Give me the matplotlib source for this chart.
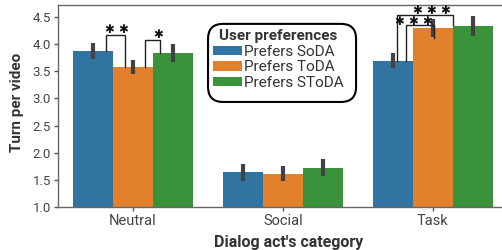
import matplotlib
matplotlib.use("Agg")
import matplotlib.pyplot as plt
from matplotlib.patches import FancyBboxPatch
import numpy as np

plt.rcParams['font.family'] = ['Roboto', 'DejaVu Sans']

categories = ["Neutral", "Social", "Task"]
series = ["Prefers SoDA", "Prefers ToDA", "Prefers SToDA"]
colors = ["#3274a1", "#e1812c", "#3a923a"]
means = {
    "Prefers SoDA": [3.87, 1.64, 3.69],
    "Prefers ToDA": [3.58, 1.62, 4.29],
    "Prefers SToDA": [3.83, 1.73, 4.33],
}
errs = {
    "Prefers SoDA": [0.14, 0.16, 0.14],
    "Prefers ToDA": [0.13, 0.145, 0.16],
    "Prefers SToDA": [0.17, 0.15, 0.19],
}
yticks = [1.0, 1.5, 2.0, 2.5, 3.0, 3.5, 4.0, 4.5]

# significance brackets: (x1, x2, y_top, y_left_bottom, y_right_bottom, label, label_x, label_y)
brackets = [
    (-0.178, -0.053, 4.16, 3.875, 3.58, "**", -0.109, 4.26),
    (0.078, 0.183, 4.07, 3.58, 3.83, "*", 0.165, 4.18),
    (1.822, 2.011, 4.35, 3.69, 4.10, "***", 1.867, 4.41),
    (1.760, 2.133, 4.53, 3.69, 4.35, "***", 1.989, 4.62),
]
star_pitch = 0.093

W, H = 502, 250
fig = plt.figure(figsize=(5.021, 2.501), dpi=100)
ax = fig.add_axes([58/W, (H-207.3)/H, (507.7-58)/W, (207.3-5)/H])

x = np.arange(len(categories))
bw = 0.8 / 3
for i, s in enumerate(series):
    pos = x - 0.4 + bw * (i + 0.5)
    ax.bar(pos, np.array(means[s]) - 1.0, bottom=1.0, width=bw, color=colors[i], label=s, zorder=2)
    ax.errorbar(pos, means[s], yerr=errs[s], fmt='none', ecolor='#424242', elinewidth=3, capsize=0, zorder=3)

for x1, x2, yt, yl, yr, lab, lx, ly in brackets:
    ax.plot([x1, x1, x2, x2], [yl, yt, yt, yr], color='#222222', lw=1.0, zorder=4)
    n = len(lab)
    for k in range(n):
        ax.text(lx + (k - (n - 1) / 2) * star_pitch, ly, "\u2731", ha='center', va='center',
                fontsize=8.5, color='#111111', family='DejaVu Sans', zorder=5)

ax.set_xlim(-0.5, 2.5)
ax.set_ylim(1.0, 4.715)
ax.set_xticks(x)
ax.set_xticklabels(categories, fontsize=10.5, color='#444444')
ax.set_yticks(yticks)
ax.set_yticklabels([f"{v:.1f}" for v in yticks], fontsize=9.5, color='#444444')
ax.tick_params(axis='both', length=3, width=1, color='#555555', pad=2)
for sp in ax.spines.values():
    sp.set_color('#666666')
    sp.set_linewidth(1.0)
ax.spines['right'].set_visible(False)

ax.set_xlabel("Dialog act's category", fontsize=11.5, fontweight='bold', color='#333333')
ax.xaxis.set_label_coords((289-58)/449.7, -(242-207.3)/202.3)
ax.xaxis.label.set_va('center')
ax.set_ylabel("Turn per video", fontsize=11, fontweight='bold', color='#333333')
ax.yaxis.set_label_coords(-(58-16.5)/449.7, (207.3-102.5)/202.3)
ax.yaxis.label.set_va('center')

leg = ax.legend(title="User preferences", loc='upper left',
                bbox_to_anchor=((209-58)/449.7, (207.3-25)/202.3), borderaxespad=0,
                fontsize=11, title_fontproperties={'weight': 'bold', 'size': 11},
                frameon=False, handlelength=1.9, handleheight=0.55,
                handletextpad=0.15, labelspacing=0.12, borderpad=0.25)
leg.set_zorder(10)
leg.get_title().set_color('#333333')
for t in leg.get_texts():
    t.set_color('#333333')

box = FancyBboxPatch((208/W + 0.016, 1 - 102/H + 0.032), (356-208)/W - 0.032, (102-24)/H - 0.064,
                     boxstyle="round,pad=0.016,rounding_size=0.03", transform=fig.transFigure,
                     facecolor='white', edgecolor='black', linewidth=1.5, zorder=9, clip_on=False)
box.set_mutation_aspect(W/H)
ax.add_artist(box)

fig.savefig("out.png", dpi=100)
